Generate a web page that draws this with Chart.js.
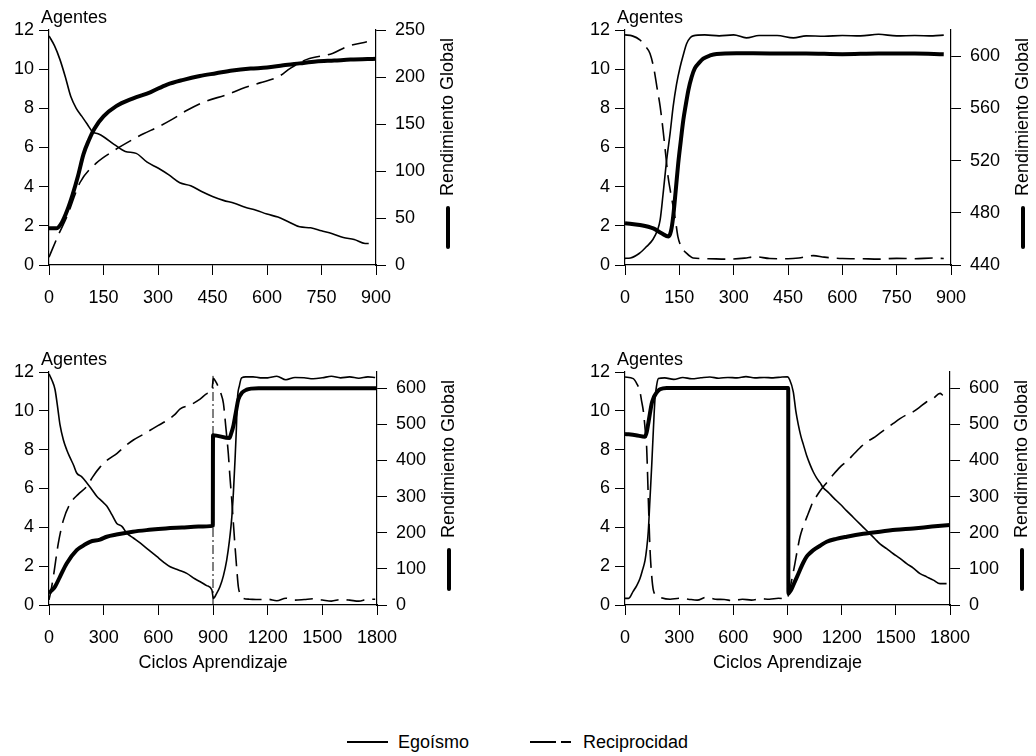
<!DOCTYPE html>
<html><head><meta charset="utf-8">
<script src="https://cdn.jsdelivr.net/npm/chart.js@4.4.1/dist/chart.umd.min.js"></script>
<style>
html,body{margin:0;padding:0;background:#fff;}
body{width:1036px;height:756px;position:relative;overflow:hidden;font-family:"Liberation Sans",Arial,sans-serif;color:#000;}
canvas{position:absolute;}
#legend{position:absolute;left:0;top:731px;width:1036px;height:22px;font-size:18px;}
.txt{position:absolute;top:0;height:22px;line-height:22px;white-space:nowrap;}
.seg{position:absolute;top:10px;height:0;border-top:2px solid #000;}
</style></head><body>
<canvas id="c1" width="518" height="320" style="left:0;top:0"></canvas>
<canvas id="c2" width="518" height="320" style="left:518px;top:0"></canvas>
<canvas id="c3" width="518" height="380" style="left:0;top:320px"></canvas>
<canvas id="c4" width="518" height="380" style="left:518px;top:320px"></canvas>
<div id="legend">
  <span class="seg" style="left:347px;width:41px"></span>
  <span class="txt" id="lg1" style="left:398px"></span>
  <span class="seg" style="left:530px;width:26px"></span>
  <span class="seg" style="left:561px;width:10px"></span>
  <span class="txt" id="lg2" style="left:583px"></span>
</div>
<script>
// ---- text ----
const seriesNames = ['Egoísmo', 'Reciprocidad', 'Rendimiento Global'];
const leftAxisTitle = 'Agentes';
const rightAxisTitle = 'Rendimiento Global';
const xAxisTitle = 'Ciclos Aprendizaje';

// ---- tick labels ----
const agentTicks = [0, 2, 4, 6, 8, 10, 12];
const xTicksShort = [0, 150, 300, 450, 600, 750, 900];
const xTicksLong = [0, 300, 600, 900, 1200, 1500, 1800];
const rendTicksP1 = [0, 50, 100, 150, 200, 250];
const rendTicksP2 = [440, 480, 520, 560, 600];
const rendTicksP34 = [0, 100, 200, 300, 400, 500, 600];

// ---- panel 1 (top left) ----
const p1EgoX = [0,15,30,45,60,75,90,105,120,135,150,180,210,240,270,300,330,360,390,420,450,480,510,540,570,600,630,660,690,720,750,780,810,840,870,880];
const p1EgoY = [11.7,11.2,10.5,9.6,8.6,8.0,7.6,7.2,6.8,6.7,6.55,6.15,5.8,5.7,5.25,4.95,4.6,4.2,4.05,3.75,3.5,3.3,3.15,2.95,2.8,2.6,2.45,2.2,1.95,1.9,1.75,1.6,1.4,1.3,1.1,1.1];
const p1RecX = [0,25,50,85,130,175,220,260,300,340,380,430,490,530,580,630,665,710,780,820,875];
const p1RecY = [0.4,1.5,2.5,4.2,5.2,5.8,6.3,6.7,7.05,7.45,7.9,8.35,8.7,9.0,9.3,9.6,10.05,10.5,10.8,11.15,11.4];
const p1RendX = [0,20,35,50,65,80,95,110,125,150,185,230,280,325,370,415,460,505,555,600,645,690,735,785,830,900];
const p1RendY = [39,39,45,58,75,95,118,133,145,158,169,177,184,192,197,201,204,207,209,210,212.5,214.5,216.5,217.5,218.5,219.5];

// ---- panel 2 (top right) ----
const p2EgoX = [0,15,40,60,77,90,97,105,115,125,133,142,152,162,170,180,188,220,260,300,335,370,420,465,500,550,600,650,700,750,800,850,880];
const p2EgoY = [0.34,0.36,0.6,0.95,1.3,1.8,2.3,3.6,5.36,6.8,8.1,9.2,10.1,10.8,11.3,11.6,11.7,11.75,11.7,11.75,11.6,11.72,11.72,11.6,11.7,11.68,11.72,11.7,11.78,11.7,11.72,11.7,11.74];
const p2RecX = [0,20,41,55,69,80,88,97,105,112,119,126,133,140,146,155,170,188,230,280,330,360,400,450,480,520,550,600,650,700,750,800,850,880];
const p2RecY = [11.75,11.7,11.5,11.2,10.8,10.0,9.1,8.1,6.9,5.7,4.5,3.7,2.98,2.2,1.45,0.95,0.6,0.36,0.32,0.3,0.35,0.42,0.33,0.32,0.36,0.48,0.4,0.33,0.32,0.3,0.34,0.32,0.36,0.33];
const p2RendX = [0,41,78,101,120,127,133,140,147,154,161,168,175,184,193,205,216,235,253,308,400,500,600,700,800,880];
const p2RendY = [472,470.6,468,464.3,461.8,466,477,497,518,535,551,563,574,584,590.8,595,598,600.5,601.7,602.2,602,602,601.5,602,602,601.5];

// ---- panel 3 (bottom left) ----
const p3EgoX = [0,15,33,50,60,79,97,115,135,152,180,207,235,262,290,317,345,372,400,427,463,500,545,591,630,665,710,756,800,830,865,894,902,920,938,957,975,990,1003,1012,1021,1028,1034,1045,1057,1080,1120,1160,1200,1250,1300,1350,1400,1450,1500,1550,1600,1650,1700,1750,1790];
const p3EgoY = [11.9,11.6,11.1,10.0,9.3,8.5,8.0,7.6,7.2,6.8,6.6,6.3,5.95,5.6,5.35,5.1,4.65,4.2,4.05,3.7,3.45,3.2,2.85,2.5,2.2,1.97,1.8,1.63,1.35,1.2,1.0,0.77,0.34,0.6,0.94,1.5,2.3,3.3,4.5,5.8,7.5,9.0,10.6,11.3,11.7,11.75,11.75,11.7,11.7,11.78,11.6,11.72,11.7,11.65,11.7,11.78,11.7,11.75,11.68,11.75,11.72];
const p3RecX = [0,10,24,51,79,115,160,207,240,280,325,372,420,463,510,555,600,646,690,720,775,829,870,894,902,915,929,943,957,970,984,993,1003,1012,1021,1030,1039,1050,1066,1100,1150,1200,1250,1300,1350,1400,1450,1500,1550,1600,1650,1700,1750,1790];
const p3RecY = [0.26,0.7,1.46,3.17,4.37,5.2,5.7,6.1,6.6,7.1,7.5,7.8,8.2,8.5,8.75,9.0,9.25,9.5,9.8,10.1,10.3,10.6,10.9,11.05,11.67,11.5,11.24,10.9,10.4,9.2,7.8,6.6,5.4,4.2,3.0,1.9,0.94,0.55,0.34,0.3,0.28,0.3,0.22,0.35,0.25,0.28,0.32,0.26,0.2,0.28,0.25,0.2,0.3,0.3];
const p3RendX = [0,10,33,60,97,152,200,225,280,317,370,460,550,640,730,820,899,900,990,1000,1011,1025,1039,1060,1085,1110,1150,1300,1450,1600,1800];
const p3RendY = [32,38,51,78,115,152,168,175,181,189,195,203,208,212,214.5,217,219,470,462,475,494,532,569,588,596,599,600,600,600,600,600];
const p3ResetX = [900, 900];
const p3ResetY = [0, 11.8];

// ---- panel 4 (bottom right) ----
const p4EgoX = [0,20,45,65,83,97,111,120,129,138,148,157,166,175,185,220,270,320,370,420,470,520,570,620,670,720,770,820,870,900,912,932,946,960,974,988,1006,1025,1043,1061,1080,1098,1126,1154,1191,1228,1255,1283,1320,1357,1385,1412,1449,1486,1523,1560,1597,1634,1671,1708,1745,1781];
const p4EgoY = [0.34,0.34,0.7,1.0,1.36,1.8,2.3,2.9,3.8,5.4,7.2,9.0,10.6,11.3,11.66,11.7,11.62,11.72,11.65,11.7,11.74,11.68,11.72,11.7,11.76,11.7,11.72,11.7,11.74,11.75,11.6,10.98,10.0,9.28,8.7,8.26,7.7,7.23,6.85,6.55,6.3,6.04,5.8,5.53,5.2,4.85,4.6,4.34,4.0,3.66,3.4,3.15,2.9,2.64,2.4,2.13,1.9,1.62,1.45,1.28,1.1,1.1];
const p4RecX = [0,46,65,83,92,102,111,120,129,138,147,157,175,194,250,300,350,400,450,500,550,600,650,700,750,800,850,895,905,915,928,941,955,969,987,1006,1025,1043,1061,1080,1117,1154,1191,1228,1265,1302,1338,1375,1412,1449,1486,1523,1560,1597,1634,1671,1708,1745,1760];
const p4RecY = [11.74,11.66,11.4,10.98,10.5,9.96,9.1,8.1,5.5,2.98,1.6,0.77,0.5,0.4,0.3,0.35,0.3,0.25,0.4,0.3,0.28,0.22,0.3,0.25,0.32,0.3,0.35,0.3,0.5,0.9,1.5,2.13,2.85,3.5,4.05,4.5,4.95,5.36,5.6,5.87,6.3,6.72,7.1,7.4,7.75,8.1,8.4,8.6,8.85,9.1,9.35,9.6,9.8,9.96,10.2,10.47,10.65,10.9,10.8];
const p4RendX = [0,60,111,120,129,138,148,157,166,180,194,231,300,400,500,600,700,800,904,905,918,932,950,969,987,1006,1025,1043,1080,1117,1170,1228,1320,1412,1500,1597,1700,1800];
const p4RendY = [473.5,470,466,478,503,530,558,572,581,591,597,601,601,601,600.5,601,601,601,601,32,40,55,75,97,117,134,144,152,164,175,183,189,197,203,208,212,217,221.5];

// ---------------------------------------------------------------
document.getElementById('lg1').textContent = seriesNames[0];
document.getElementById('lg2').textContent = seriesNames[1];

Chart.defaults.font.family = '"Liberation Sans", Arial, sans-serif';
Chart.defaults.font.size = 18;
Chart.defaults.color = '#000';

const pts = (xs, ys) => xs.map((x, i) => ({x: x, y: ys[i]}));
const plain = v => String(v);
const FONT = '18px "Liberation Sans", Arial, sans-serif';

const panelLabels = {
  id: 'panelLabels',
  afterDraw(chart) {
    const ctx = chart.ctx;
    const {left, right, top} = chart.chartArea;
    ctx.save();
    ctx.fillStyle = '#000';
    ctx.font = FONT;
    ctx.textAlign = 'left';
    ctx.textBaseline = 'alphabetic';
    ctx.fillText(leftAxisTitle, left - 8, top - 7);
    const cx = right + 72;
    ctx.save();
    ctx.translate(cx, top + 166);
    ctx.rotate(-Math.PI / 2);
    ctx.textBaseline = 'middle';
    ctx.fillText(rightAxisTitle, 0, 0);
    ctx.restore();
    ctx.strokeStyle = '#000';
    ctx.lineWidth = 4;
    ctx.lineCap = 'round';
    ctx.beginPath();
    ctx.moveTo(cx, top + 178);
    ctx.lineTo(cx, top + 217);
    ctx.stroke();
    ctx.restore();
  }
};

function axisCommon(ticksArr, extra) {
  return Object.assign({
    afterBuildTicks: s => { s.ticks = ticksArr.map(v => ({value: v})); },
    grid: {drawOnChartArea: false, drawTicks: true, tickLength: 10, color: '#000', lineWidth: 1},
    border: {display: true, color: '#000', width: 1.2},
  }, extra);
}

function makePanel(id, c) {
  const datasets = [
    {label: seriesNames[0], data: pts(c.ego[0], c.ego[1]), yAxisID: 'y', borderColor: '#000', borderWidth: 1.6,
     pointRadius: 0, cubicInterpolationMode: 'monotone', fill: false},
    {label: seriesNames[1], data: pts(c.rec[0], c.rec[1]), yAxisID: 'y', borderColor: '#000', borderWidth: 1.6,
     borderDash: [18, 8], pointRadius: 0, cubicInterpolationMode: 'monotone', fill: false},
    {label: seriesNames[2], data: pts(c.rend[0], c.rend[1]), yAxisID: 'y2', borderColor: '#000', borderWidth: 4,
     pointRadius: 0, cubicInterpolationMode: 'monotone', fill: false, borderJoinStyle: 'round'}
  ];
  if (c.reset) {
    datasets.push({label: 'reset', data: pts(c.reset[0], c.reset[1]), yAxisID: 'y', borderColor: '#000',
      borderWidth: 1, borderDash: [9, 3, 2, 3], pointRadius: 0, tension: 0, fill: false});
  }
  const xOpts = axisCommon(c.xTicks, {
    type: 'linear', position: 'bottom', min: 0, max: c.xMax,
    ticks: {padding: 12, autoSkip: false, maxRotation: 0, minRotation: 0, color: '#000', callback: plain},
    afterFit: s => { s.height = c.bottomH; }
  });
  if (c.xTitle) {
    xOpts.title = {display: true, text: xAxisTitle, color: '#000', font: {size: 18}, padding: {top: 0, bottom: 26}};
  }
  new Chart(document.getElementById(id), {
    type: 'line',
    data: {datasets: datasets},
    options: {
      responsive: false,
      animation: false,
      devicePixelRatio: 1,
      layout: {padding: {top: c.topPad, left: 0, right: 0, bottom: 0}},
      plugins: {legend: {display: false}, tooltip: {enabled: false}},
      scales: {
        x: xOpts,
        y: axisCommon(agentTicks, {
          position: 'left', min: 0, max: 12,
          ticks: {padding: 5, color: '#000', callback: plain},
          afterFit: s => { s.width = c.leftW; }
        }),
        y2: axisCommon(c.rTicks, {
          position: 'right', min: c.rMin, max: c.rMax,
          ticks: {padding: 9, color: '#000', callback: plain},
          afterFit: s => { s.width = c.rightW; }
        })
      }
    },
    plugins: [panelLabels]
  });
}

makePanel('c1', {xMax: 900, xTicks: xTicksShort, rMin: 0, rMax: 250, rTicks: rendTicksP1,
  leftW: 49, rightW: 142, bottomH: 55, topPad: 30,
  ego: [p1EgoX, p1EgoY], rec: [p1RecX, p1RecY], rend: [p1RendX, p1RendY]});
makePanel('c2', {xMax: 900, xTicks: xTicksShort, rMin: 440, rMax: 620, rTicks: rendTicksP2,
  leftW: 107, rightW: 85, bottomH: 55, topPad: 30,
  ego: [p2EgoX, p2EgoY], rec: [p2RecX, p2RecY], rend: [p2RendX, p2RendY]});
makePanel('c3', {xMax: 1800, xTicks: xTicksLong, rMin: 0, rMax: 645, rTicks: rendTicksP34,
  leftW: 49, rightW: 141, bottomH: 95, topPad: 52, xTitle: true,
  ego: [p3EgoX, p3EgoY], rec: [p3RecX, p3RecY], rend: [p3RendX, p3RendY], reset: [p3ResetX, p3ResetY]});
makePanel('c4', {xMax: 1800, xTicks: xTicksLong, rMin: 0, rMax: 645, rTicks: rendTicksP34,
  leftW: 107, rightW: 86, bottomH: 95, topPad: 52, xTitle: true,
  ego: [p4EgoX, p4EgoY], rec: [p4RecX, p4RecY], rend: [p4RendX, p4RendY]});
</script>
</body></html>
